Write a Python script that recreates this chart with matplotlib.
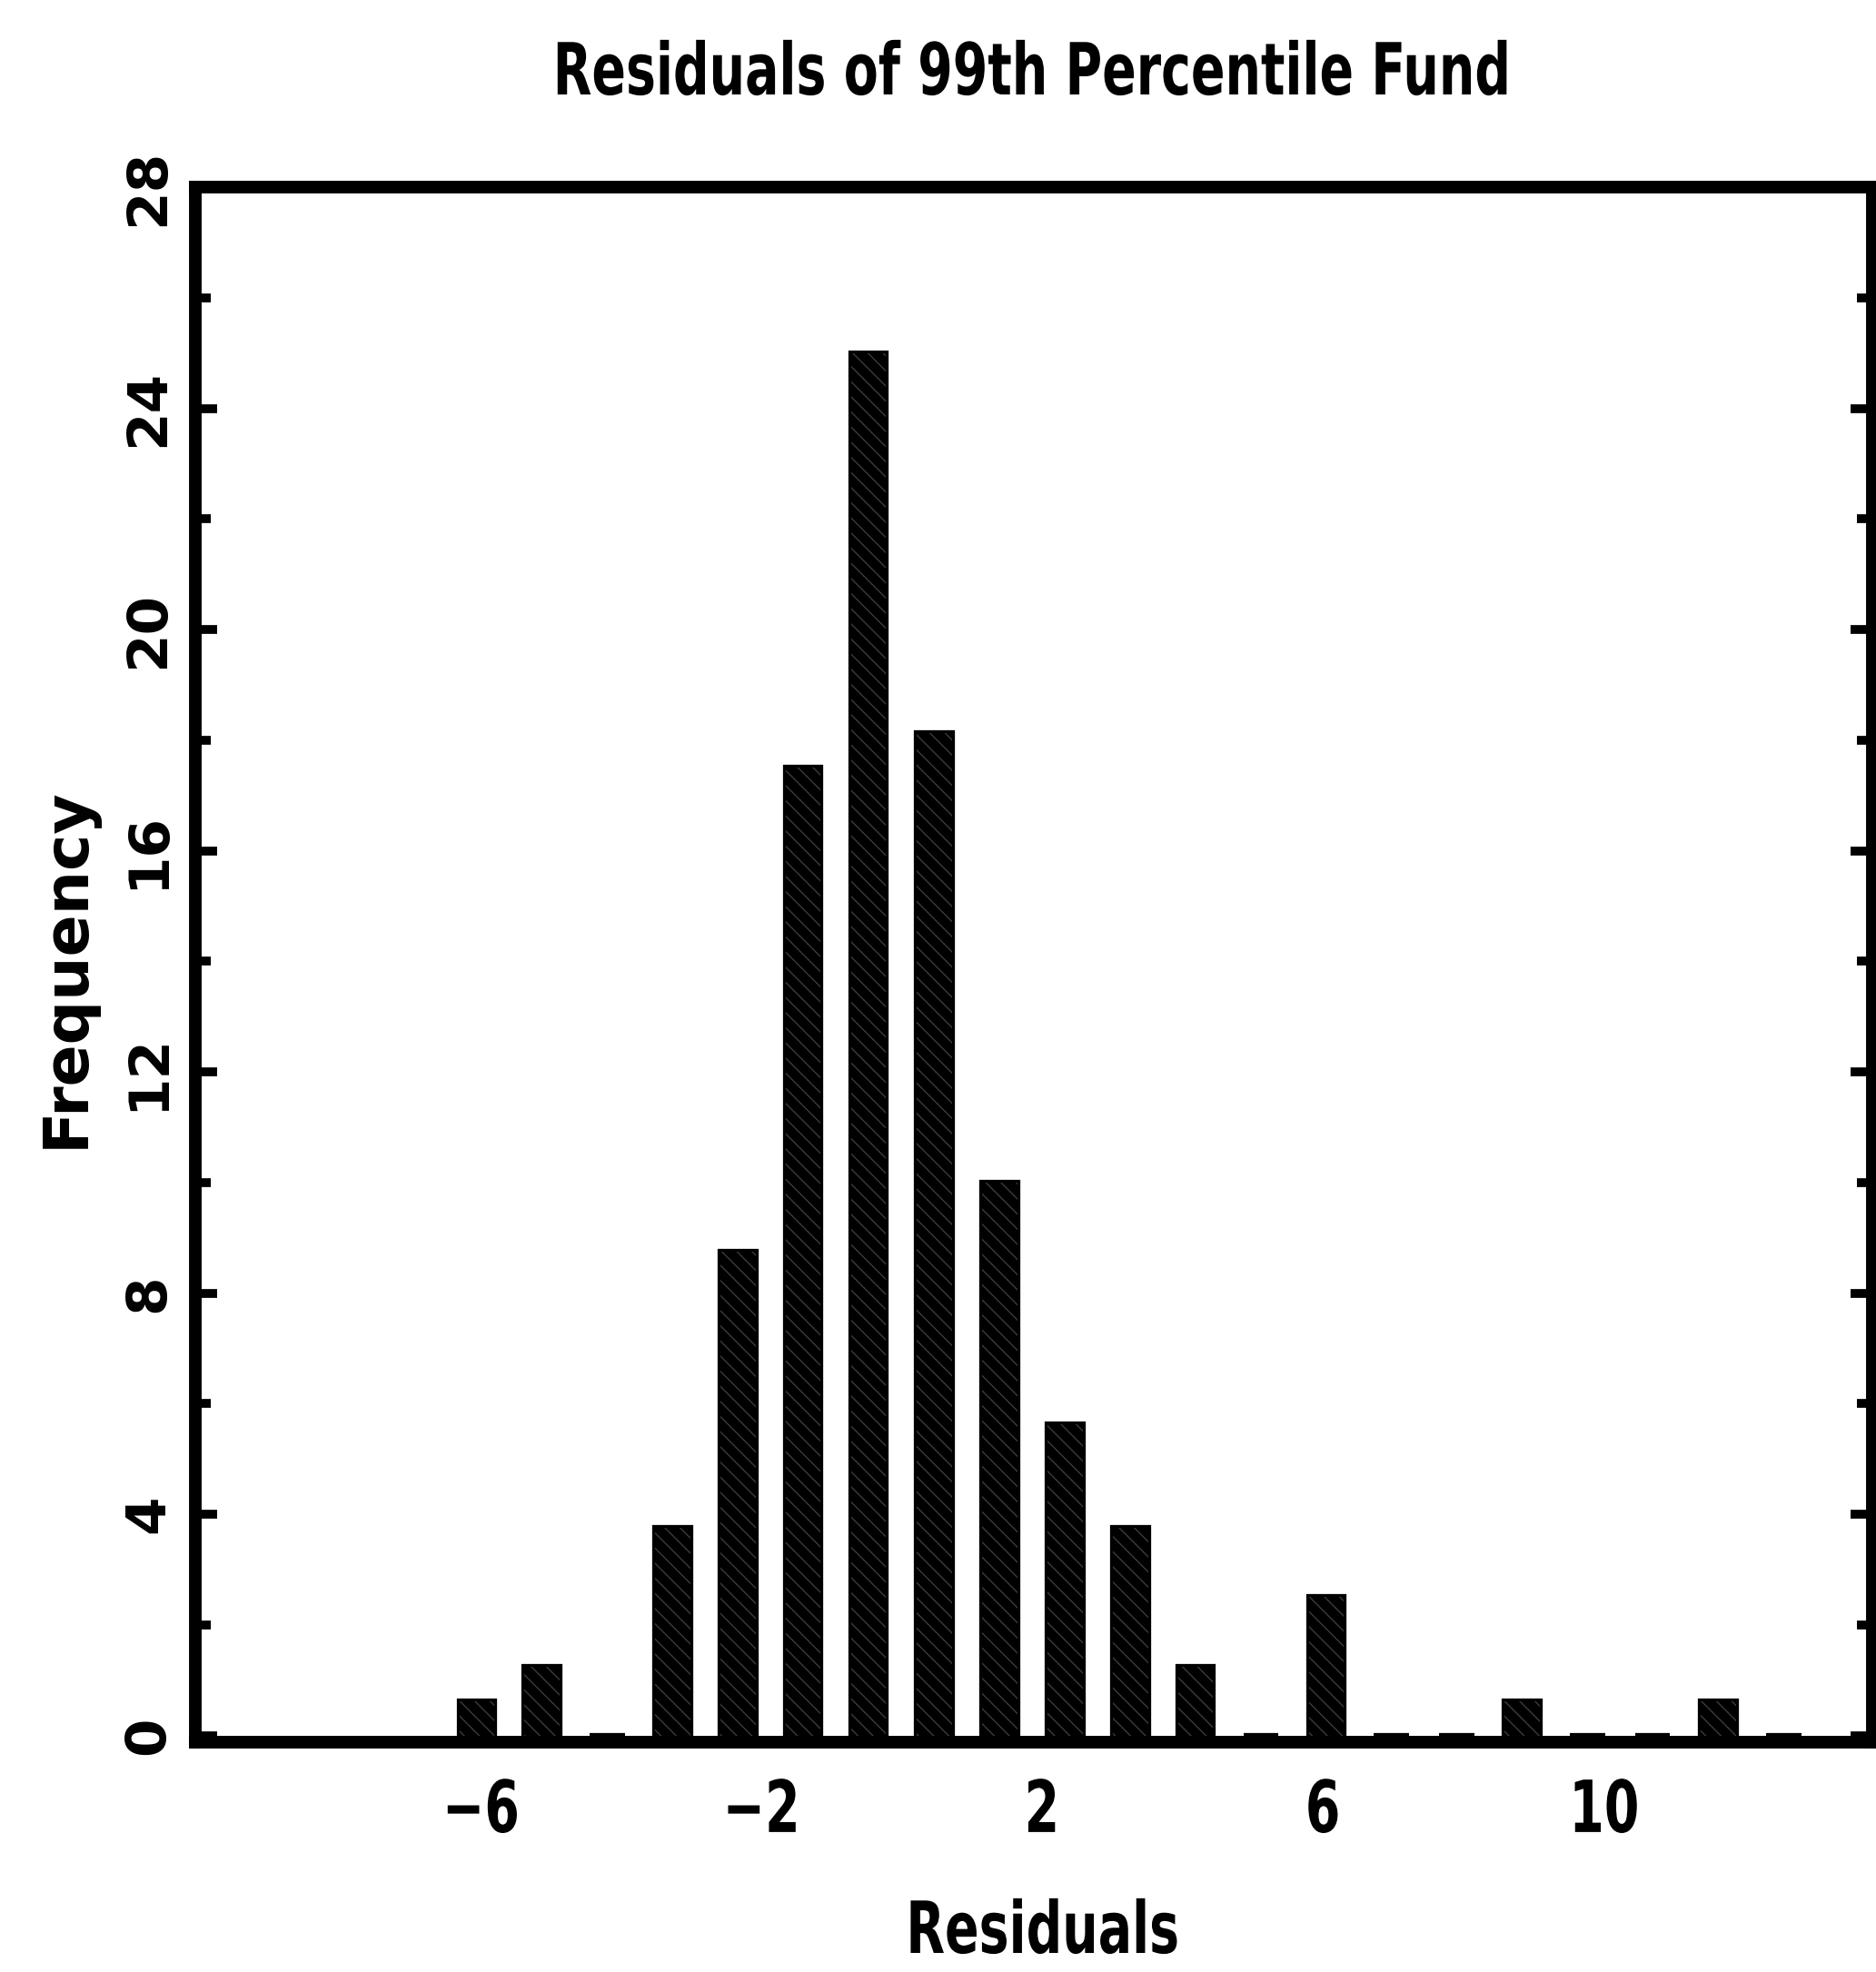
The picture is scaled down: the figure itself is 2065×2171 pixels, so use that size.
#!/usr/bin/env python3
"""
Histogram of the residuals of the 99th percentile fund.
Output: out.png
"""
import matplotlib
matplotlib.use("Agg")
import matplotlib.pyplot as plt
from matplotlib.patheffects import AbstractPathEffect
from matplotlib.ticker import MultipleLocator
from matplotlib.transforms import Affine2D

# bin centres and bar heights
bin_centers = [-6.05, -5.12, -4.19, -3.26, -2.33, -1.40, -0.47, 0.47, 1.40, 2.33,
               3.26, 4.19, 5.12, 6.05, 6.98, 7.91, 8.84, 9.77, 10.70, 11.64, 12.57]
frequency = [0.625, 1.25, 0.0, 3.75, 8.75, 17.5, 25.0, 18.125, 10.0, 5.625,
             3.75, 1.25, 0.0, 2.5, 0.0, 0.0, 0.625, 0.0, 0.0, 0.625, 0.0]

x_ticks = [-6, -2, 2, 6, 10]
x_tick_labels = ["\u22126", "\u22122", "2", "6", "10"]
y_ticks = [0, 4, 8, 12, 16, 20, 24, 28]
y_tick_labels = [str(v) for v in y_ticks]


class Squeeze(AbstractPathEffect):
    """Draw text narrower along its baseline, about its own centre."""

    def __init__(self, sx):
        super().__init__()
        self.sx = sx

    def draw_path(self, renderer, gc, tpath, affine, rgbFace=None):
        ext = tpath.get_extents()
        cx = 0.5 * (ext.x0 + ext.x1)
        squeeze = Affine2D().translate(-cx, 0).scale(self.sx, 1).translate(cx, 0)
        renderer.draw_path(gc, tpath, squeeze + affine, rgbFace)


narrow = [Squeeze(0.70)]
FONT = "DejaVu Sans"

W, H = 2065, 2171
fig = plt.figure(figsize=(W / 100, H / 100), dpi=100)
ax = fig.add_axes([215 / W, 1 - 1918 / H, (2061 - 215) / W, (1918 - 206) / H])

# solid bars, then a faint diagonal texture on top
ax.bar(bin_centers, frequency, width=0.5, color="black", edgecolor="black",
       linewidth=4.5, zorder=2)
ax.bar(bin_centers, frequency, width=0.5, facecolor="none", edgecolor="#3c3c3c",
       linewidth=0, hatch="\\\\", zorder=3)

ax.set_xlim(-10.06, 13.83)
ax.set_ylim(-0.12, 28)

for s in ax.spines.values():
    s.set_linewidth(10)
    s.set_capstyle("projecting")

ax.set_xticks(x_ticks, x_tick_labels, fontsize=57, fontweight="bold",
              fontfamily=FONT, path_effects=narrow)
ax.tick_params(axis="x", length=0, pad=28)

ax.set_yticks(y_ticks, y_tick_labels, rotation=90, rotation_mode="anchor",
              ha="center", va="baseline", fontsize=44, fontweight="bold",
              fontfamily=FONT)
ax.yaxis.set_minor_locator(MultipleLocator(2))
ax.tick_params(axis="y", which="both", direction="in", left=True, right=True,
               width=7)
ax.tick_params(axis="y", which="major", length=17, pad=25)
ax.tick_params(axis="y", which="minor", length=12)

fig.text(1135 / W, 1 - 104 / H, "Residuals of 99th Percentile Fund",
         ha="center", va="baseline", fontsize=57, fontweight="bold",
         family=FONT, path_effects=narrow)
fig.text(1147 / W, 1 - 2150 / H, "Residuals", ha="center", va="baseline",
         fontsize=57, fontweight="bold", family=FONT, path_effects=narrow)
fig.text(92 / W, 1 - 1065 / H, "Frequency", rotation=90, rotation_mode="anchor",
         ha="center", va="baseline", fontsize=49, fontweight="bold", family=FONT)

fig.savefig("out.png", dpi=100)
plt.close(fig)
